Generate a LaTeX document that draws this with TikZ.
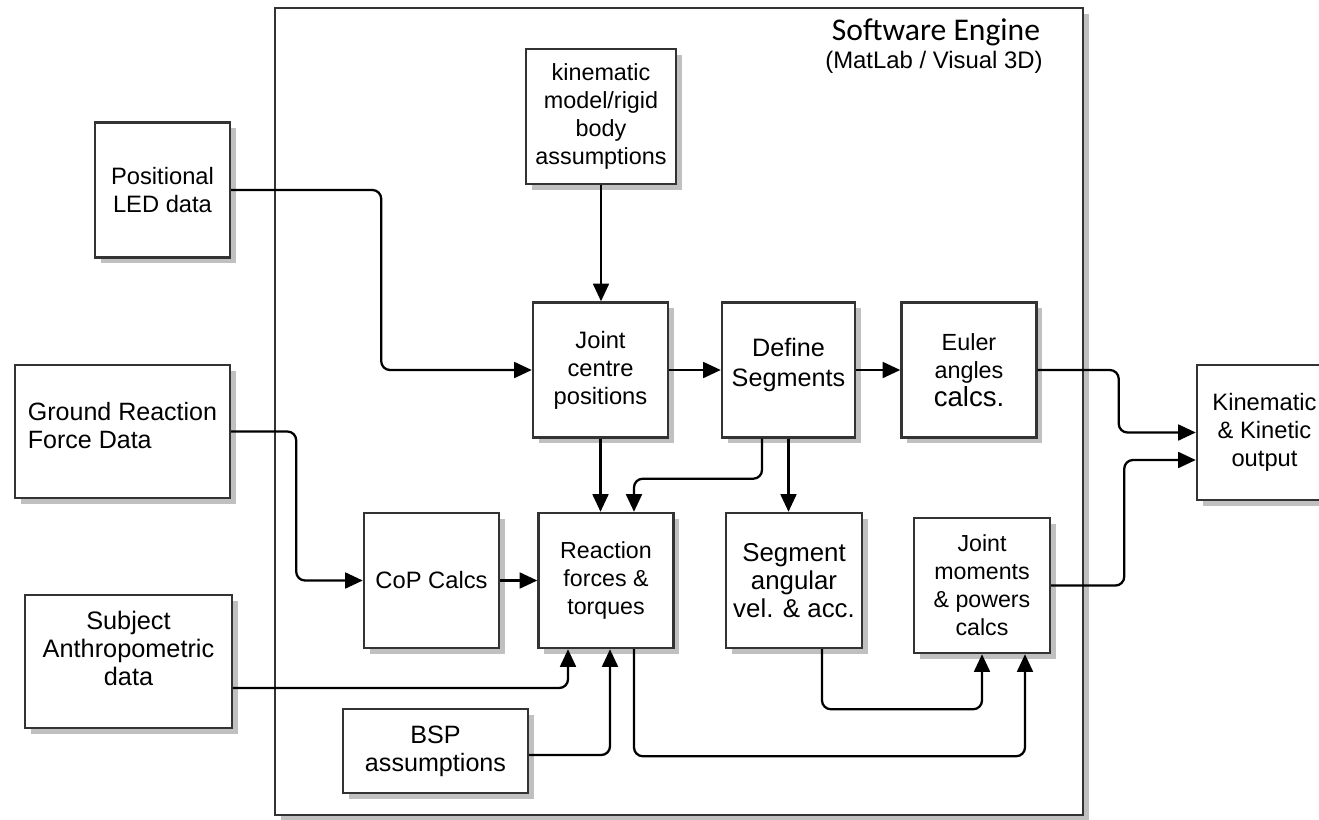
\documentclass[tikz,border=0pt]{standalone}
\usepackage{fontspec}
\setmainfont{Liberation Sans}
\newfontfamily\titlefont{Carlito}
\usetikzlibrary{arrows.meta,shadows}
\definecolor{boxgray}{RGB}{51,51,51}
\definecolor{shadowgray}{RGB}{192,192,192}

\begin{document}
\begin{tikzpicture}[x=0.02cm, y=-0.02cm,
  block/.style={draw=boxgray, line width=1.4pt, fill=white, align=center, inner sep=0pt,
    minimum width=2.7cm, minimum height=2.7cm, font=\fontsize{13.5}{16}\selectfont,
    drop shadow={shadow xshift=3.2pt, shadow yshift=-3.2pt, fill=shadowgray, opacity=1}},
  frame/.style={block, minimum width=16.16cm, minimum height=16.14cm},
  link/.style={-{Triangle[length=10pt,width=9pt]}, line width=1.3pt, rounded corners=5pt}]
  \useasboundingbox (0,0) rectangle (1319,819);
  % Software engine frame
  \node[frame] (engine) at (679,411.5) {};
  \node[anchor=base, inner sep=0pt, font=\titlefont\fontsize{18}{20}\selectfont] (title) at (936,40) {Software Engine};
  \node[anchor=base, inner sep=0pt, font=\fontsize{13.6}{16}\selectfont] (subtitle) at (934,68) {(MatLab / Visual 3D)};
  % Input data (outside the engine)
  \node[block] (led) at (162.5,190) {Positional\\LED data};
  \node[block, minimum width=4.3cm, minimum height=2.66cm, align=left, font=\fontsize{14.25}{16}\selectfont] (grf) at (122.5,431.5) {Ground Reaction\\Force Data\\[-9pt]\mbox{}};
  \node[block, minimum width=4.14cm, minimum height=2.66cm, font=\fontsize{14.4}{16}\selectfont] (anthro) at (128.5,661.5) {Subject\\Anthropometric\\data\\[-1pt]\mbox{}};
  % Processing steps
  \node[block, minimum width=3cm, font=\fontsize{13.3}{16}\selectfont] (kinmodel) at (601,116.5) {kinematic\\model/rigid\\body\\assumptions};
  \node[block] (jcp) at (600.5,370) {Joint\\centre\\positions};
  \node[block, minimum width=2.66cm, font=\fontsize{14.35}{17}\selectfont] (defseg) at (788.5,370) {Define\\Segments\\[-8pt]\mbox{}};
  \node[block, font=\fontsize{13.3}{16}\selectfont] (euler) at (969,370) {Euler\\angles\\{\fontsize{15.7}{16}\selectfont calcs.}};
  \node[block] (cop) at (431.5,580.5) {CoP Calcs};
  \node[block, font=\fontsize{13.2}{16}\selectfont] (reaction) at (606,580.5) {Reaction\\forces \&\\torques};
  \node[block, minimum width=2.72cm, font=\fontsize{14.7}{16}\selectfont] (segang) at (794,580.5) {Segment\\angular\\vel. \& acc.};
  \node[block, minimum width=2.72cm, font=\fontsize{13.2}{16}\selectfont] (jmom) at (982,585.5) {Joint\\moments\\\& powers\\calcs};
  \node[block, minimum width=3.7cm, minimum height=1.68cm, font=\fontsize{14.3}{16}\selectfont] (bsp) at (435.5,751) {BSP\\assumptions};
  % Output
  \node[block] (output) at (1264.5,432.5) {Kinematic\\\& Kinetic\\output};
  % Data into the engine
  \draw[link] (led.east) -- ++(150,0) |- (jcp.west);
  \draw[link] (grf.east) -- ++(65,0) |- (cop.west);
  \draw[link] ([yshift=-0.53cm]anthro.east) -| ([xshift=-0.76cm]reaction.south);
  \draw[link] ([yshift=-0.08cm]bsp.east) -| ([xshift=0.08cm]reaction.south);
  % Kinematic chain
  \draw[link] (kinmodel.south) -- (kinmodel.south |- jcp.north);
  \draw[link] (jcp.east) -- (defseg.west);
  \draw[link] (defseg.east) -- (euler.west);
  \draw[link] (jcp.south) -- (jcp.south |- reaction.north);
  \draw[link] ([xshift=-0.53cm]defseg.south) -- ++(0,40) -| ([xshift=0.56cm]reaction.north);
  \draw[link] (defseg.south) -- (defseg.south |- segang.north);
  % Kinetic chain
  \draw[link] (cop.east) -- (reaction.west);
  \draw[link] ([xshift=0.56cm]reaction.south) -- ++(0,107) -| ([xshift=0.86cm]jmom.south);
  \draw[link] ([xshift=0.56cm]segang.south) -- ++(0,60) -| (jmom.south);
  % Results out of the engine
  \draw[link] (euler.east) -- ++(81,0) |- (output.west);
  \draw[link] (jmom.east) -- ++(73,0) |- ([yshift=-0.55cm]output.west);
\end{tikzpicture}
\end{document}
